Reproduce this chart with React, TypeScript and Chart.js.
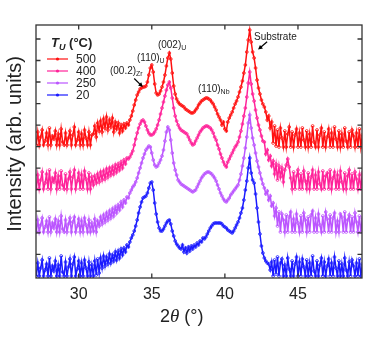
import React, { useEffect, useRef } from "react";
import { Chart, registerables } from "chart.js";

Chart.register(...registerables);

// ---- scan grid (2θ, degrees) ----
const TWO_THETA_START = 27.1;
const TWO_THETA_STEP = 0.1;

// ---- axes ----
const X_MIN = 27.08;
const X_MAX = 49.38;
const X_TICKS = [30, 35, 40, 45];
const Y_MIN = 0;
const Y_MAX = 253;
const Y_TICKS = [23.7, 45.2, 66.8, 88.3, 109.8, 131.4, 152.9, 174.4, 196.0, 217.5, 239.0];

// ---- legend / series ----
const LEGEND_TITLE = "T";
const LEGEND_TITLE_SUB = "U";
const LEGEND_TITLE_UNIT = " (°C)";
const TEMPS = ["500", "400", "250", "20"];
const COLORS = ["#ff1010", "#ff2299", "#bb55ff", "#1a1aff"];

// intensity (offset, arb. units), one value per grid step
const I_500 = [
  133,146,133,141,148,133,137,145,133,150, 133,142,139,147,133,144,133,149,136,133,
  145,133,140,147,133,143,151,133,138,146, 133,144,133,148,140,133,146,133,143,
  144,152,141,155,147,157,146,159,150,161, 148,158,151,160,146,156,149,155,145,153,
  147,154,150,155,153,
  158,162,167,173,178,183,186,189,190,191, 191,192,196,203,210,213,206,194,185,183,
  184,187,191,196,203,212,220,225,219,205, 192,184,179,176,174,173,172,171,169,168,
  167,166,165,165,166,168,170,173,175,177, 178,179,180,180,179,178,176,174,171,168,
  164,161,158,153,156,
  149,147,156,160,163,166,170,174,177,181, 186,191,197,205,213,226,238,248,236,226,
  220,210,198,190,184,178,174,171,166,158, 162,150,156,
  135,152,132,148,131,150,140,131,147,131, 144,151,131,146,131,143,149,131,145,131,
  150,138,131,147,131,144,131,152,136,131, 148,131,143,150,131,146,131,141,149,131,
  145,131,151,139,131,147,131,144,131,150, 137,131,146,131,148,142,131,145,131,149,
  131,143,
];
const I_400 = [
  89,103,89,98,106,89,95,104,89,108, 89,100,96,105,89,102,89,107,93,89,
  104,89,99,106,89,101,108,89,97,105, 89,103,89,107,99,89,105,89,101,
  93,102,95,104,96,106,98,107,99,109, 101,110,103,111,104,113,106,114,108,116,
  110,118,114,120,119,
  121,124,127,133,139,145,150,154,157,158, 156,152,148,145,143,143,144,146,149,153,
  158,164,170,176,182,188,193,196,190,180, 170,162,157,153,150,148,147,146,145,144,
  141,138,135,133,134,137,140,143,146,148, 150,151,152,152,151,150,148,145,141,138,
  133,129,124,120,116,
  113,111,116,119,122,125,128,131,133,136, 141,147,154,162,170,181,195,206,194,184,
  177,168,160,153,148,142,137,136,124,128, 118,122,112,
  117,104,114,98,112,101,110,96,108,113, 119,111,100,89,106,89,102,108,89,104,
  89,107,97,89,105,89,101,108,89,103, 89,106,94,89,107,89,102,105,89,108,
  89,100,106,89,103,89,107,96,89,105, 89,102,108,89,104,89,106,99,89,103,
  89,105,
];
const I_250 = [
  46,58,46,53,60,46,51,57,46,61, 46,55,50,59,46,57,46,62,49,46,
  58,46,54,60,46,56,61,46,52,59, 46,57,46,60,53,46,58,46,55,
  47,59,46,57,52,61,54,63,56,65, 58,67,60,69,62,71,65,73,68,76,
  71,78,75,81,80,
  85,88,91,93,96,100,105,110,115,120, 124,128,130,132,131,125,118,113,111,112,
  115,118,122,128,137,146,151,148,138,125, 115,108,103,98,96,94,93,92,91,90,
  89,88,87,86,87,88,91,94,97,100, 102,104,105,106,106,105,104,102,100,97,
  93,89,85,82,79,
  77,76,78,80,83,85,87,89,91,93, 98,104,112,120,130,141,155,163,150,140,
  133,125,117,111,105,99,94,90,84,87, 78,82,72,
  75,62,70,52,66,46,64,58,46,63, 46,61,66,46,59,46,64,55,46,62,
  46,65,58,46,61,46,63,67,46,60, 46,64,53,46,62,46,66,59,46,63,
  46,60,65,46,57,46,64,61,46,66, 46,58,63,46,61,46,65,56,46,62,
  46,60,
];
const I_20 = [
  2,15,2,10,18,2,8,14,2,20, 2,12,7,17,2,13,2,22,6,2,
  16,2,11,19,2,14,21,2,9,17, 2,15,2,18,10,2,16,2,13,
  2,17,3,19,5,20,10,22,12,21, 14,24,15,23,17,26,18,27,20,29,
  23,30,26,33,31,
  36,40,43,47,52,58,65,71,76,80, 81,82,85,90,95,96,88,75,64,56,
  50,47,47,49,52,55,57,58,54,47, 42,37,34,32,30,29,33,26,30,25,
  31,27,32,29,33,31,35,33,37,36, 40,39,41,44,47,50,52,54,55,55,
  55,55,55,54,52,
  51,50,48,47,46,45,47,50,53,56, 60,65,70,78,88,97,110,120,105,98,
  95,84,70,56,44,32,25,20,17,15, 14,8,16,
  2,18,4,21,2,15,19,2,13,2, 20,9,2,17,2,14,21,2,16,2,
  19,11,2,18,2,15,2,22,7,2, 17,2,13,20,2,16,2,12,19,2,
  15,2,21,10,2,17,2,14,2,20, 8,2,16,2,18,12,2,15,2,19,
  2,14,
];
const SERIES = [I_500, I_400, I_250, I_20];

// annotations (data coordinates: 2θ, intensity)
const PEAK_LABELS = [
  { x: 32.14, y: 204, text: "(00.2)", sub: "Zr" },
  { x: 33.99, y: 217.5, text: "(110)", sub: "U" },
  { x: 35.42, y: 230, text: "(002)", sub: "U" },
  { x: 38.16, y: 186.5, text: "(110)", sub: "Nb" },
  { x: 41.99, y: 238.5, text: "Substrate", sub: "" },
];
const ARROWS = [
  { x1: 33.8, y1: 199.5, x2: 34.39, y2: 191 },
  { x1: 42.89, y1: 236.3, x2: 42.27, y2: 228.4 },
];

const SANS = '"Liberation Sans", Arial, sans-serif';
const SERIF = '"Liberation Serif", "Times New Roman", serif';
const TEXT = "#222";
const AXIS = "#333";

type Part = { t: string; font: string; dy?: number };
function rich(ctx: CanvasRenderingContext2D, x: number, y: number, parts: Part[]) {
  let cx = x;
  for (const p of parts) {
    ctx.font = p.font;
    ctx.fillText(p.t, cx, y + (p.dy || 0));
    cx += ctx.measureText(p.t).width;
  }
}

const decorPlugin = {
  id: "decor",
  afterDraw(chart: any) {
    const ctx: CanvasRenderingContext2D = chart.ctx;
    const { left, right, top, bottom } = chart.chartArea;
    const xs = chart.scales.x;
    const ys = chart.scales.y;
    ctx.save();
    // frame + inward ticks
    ctx.strokeStyle = AXIS;
    ctx.lineWidth = 1.3;
    ctx.strokeRect(left, top, right - left, bottom - top);
    ctx.beginPath();
    X_TICKS.forEach((t) => {
      const p = xs.getPixelForValue(t);
      ctx.moveTo(p, bottom); ctx.lineTo(p, bottom - 4.5);
      ctx.moveTo(p, top); ctx.lineTo(p, top + 4.5);
    });
    Y_TICKS.forEach((t) => {
      const p = ys.getPixelForValue(t);
      ctx.moveTo(left, p); ctx.lineTo(left + 4.5, p);
      ctx.moveTo(right, p); ctx.lineTo(right - 4.5, p);
    });
    ctx.stroke();

    ctx.fillStyle = TEXT;
    ctx.textBaseline = "alphabetic";
    ctx.textAlign = "left";

    // x title: 2θ (°)
    rich(ctx, 160, 322, [
      { t: "2", font: `18px ${SANS}` },
      { t: "θ", font: `italic 19px ${SERIF}` },
      { t: " (°)", font: `18px ${SANS}` },
    ]);

    // y title
    ctx.save();
    ctx.translate(21, 144);
    ctx.rotate(-Math.PI / 2);
    ctx.textAlign = "center";
    ctx.font = `20px ${SANS}`;
    ctx.fillText("Intensity (arb. units)", 0, 0);
    ctx.restore();

    // legend
    rich(ctx, 51, 47, [
      { t: LEGEND_TITLE, font: `italic bold 13px ${SANS}` },
      { t: LEGEND_TITLE_SUB, font: `italic bold 9px ${SANS}`, dy: 2.5 },
      { t: LEGEND_TITLE_UNIT, font: `bold 13px ${SANS}` },
    ]);
    TEMPS.forEach((lab, i) => {
      const ly = 59 + i * 12;
      ctx.strokeStyle = COLORS[i];
      ctx.lineWidth = 1.2;
      ctx.beginPath();
      ctx.moveTo(47, ly); ctx.lineTo(68, ly);
      ctx.stroke();
      ctx.fillStyle = COLORS[i];
      ctx.beginPath();
      ctx.arc(57.5, ly, 1.6, 0, Math.PI * 2);
      ctx.fill();
      ctx.fillStyle = TEXT;
      ctx.font = `12px ${SANS}`;
      ctx.fillText(lab, 76, ly + 4.3);
    });

    // peak labels
    PEAK_LABELS.forEach((l) => {
      const px = xs.getPixelForValue(l.x);
      const py = ys.getPixelForValue(l.y);
      const parts: Part[] = [{ t: l.text, font: `10px ${SANS}` }];
      if (l.sub) parts.push({ t: l.sub, font: `7px ${SANS}`, dy: 2 });
      rich(ctx, px, py, parts);
    });

    // arrows
    ctx.strokeStyle = "#000";
    ctx.fillStyle = "#000";
    ctx.lineWidth = 1.2;
    ARROWS.forEach((a) => {
      const x1 = xs.getPixelForValue(a.x1), y1 = ys.getPixelForValue(a.y1);
      const x2 = xs.getPixelForValue(a.x2), y2 = ys.getPixelForValue(a.y2);
      const ang = Math.atan2(y2 - y1, x2 - x1);
      ctx.beginPath();
      ctx.moveTo(x1, y1);
      ctx.lineTo(x2 - 2 * Math.cos(ang), y2 - 2 * Math.sin(ang));
      ctx.stroke();
      const h = 4.5, w = 2.3;
      ctx.beginPath();
      ctx.moveTo(x2, y2);
      ctx.lineTo(x2 - h * Math.cos(ang) + w * Math.sin(ang), y2 - h * Math.sin(ang) - w * Math.cos(ang));
      ctx.lineTo(x2 - h * Math.cos(ang) - w * Math.sin(ang), y2 - h * Math.sin(ang) + w * Math.cos(ang));
      ctx.closePath();
      ctx.fill();
    });
    ctx.restore();
  },
};

export default function App() {
  const ref = useRef<HTMLCanvasElement | null>(null);
  useEffect(() => {
    if (!ref.current) return;
    // blue first so it is drawn last (on top)
    const order = [3, 2, 1, 0];
    const datasets = order.map((si) => ({
      label: TEMPS[si],
      data: SERIES[si].map((v, i) => ({ x: +(TWO_THETA_START + i * TWO_THETA_STEP).toFixed(2), y: v })),
      borderColor: COLORS[si],
      backgroundColor: COLORS[si],
      pointBackgroundColor: "rgba(255,255,255,0)",
      pointBorderColor: COLORS[si],
      borderWidth: 1.5,
      pointRadius: 1.4,
      pointBorderWidth: 0.8,
      tension: 0,
    }));
    const chart = new Chart(ref.current, {
      type: "line",
      data: { datasets },
      options: {
        animation: false,
        responsive: false,
        devicePixelRatio: 1,
        layout: { padding: { left: 0, right: 12, top: 25, bottom: 0 } },
        plugins: { legend: { display: false }, tooltip: { enabled: false } },
        scales: {
          x: {
            type: "linear",
            min: X_MIN,
            max: X_MAX,
            afterBuildTicks: (s: any) => { s.ticks = X_TICKS.map((v) => ({ value: v })); },
            afterFit: (s: any) => { s.height = 59; },
            grid: { display: false, drawTicks: false },
            border: { display: false },
            ticks: {
              color: TEXT,
              padding: 7,
              font: { family: SANS, size: 16 },
              callback: (v: any) => String(v),
              maxRotation: 0,
            },
          },
          y: {
            type: "linear",
            min: Y_MIN,
            max: Y_MAX,
            afterBuildTicks: (s: any) => { s.ticks = Y_TICKS.map((v) => ({ value: v })); },
            afterFit: (s: any) => { s.width = 36; },
            grid: { display: false, drawTicks: false },
            border: { display: false },
            ticks: { display: false },
          },
        },
      } as any,
      plugins: [decorPlugin],
    });
    return () => chart.destroy();
  }, []);
  return (
    <div style={{ position: "absolute", left: 0, top: 0, width: 374, height: 337, background: "#fff" }}>
      <canvas ref={ref} width={374} height={337} style={{ display: "block" }} />
    </div>
  );
}
